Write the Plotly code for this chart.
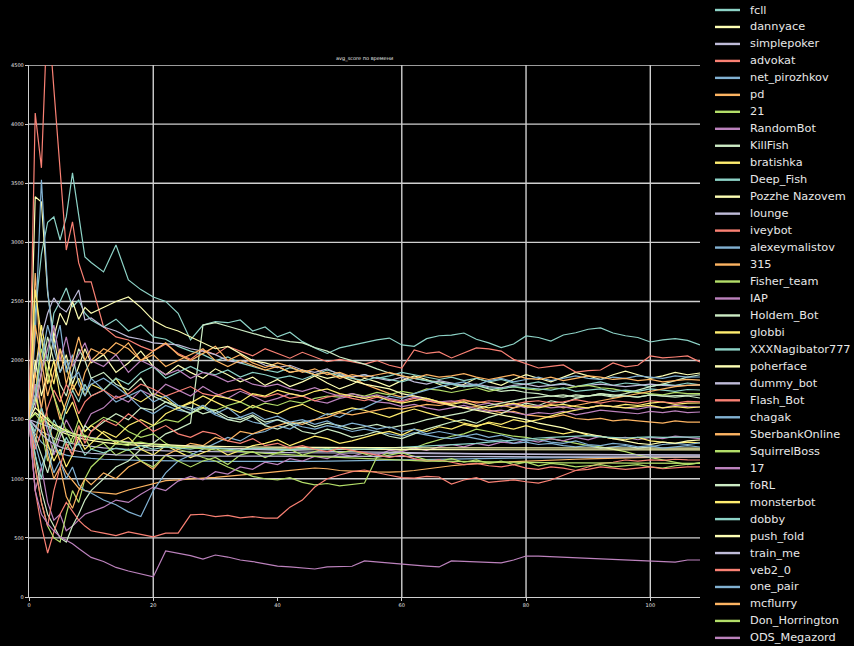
import plotly.graph_objects as go

# x positions of the samples (games played)
X = list(range(0, 11)) + list(range(12, 109, 2))

NAMES = ["fcll", "dannyace", "simplepoker", "advokat", "net_pirozhkov", "pd", "21",
         "RandomBot", "KillFish", "bratishka", "Deep_Fish", "Pozzhe Nazovem", "lounge",
         "iveybot", "alexeymalistov", "315", "Fisher_team", "IAP", "Holdem_Bot", "globbi",
         "XXXNagibator777", "poherface", "dummy_bot", "Flash_Bot", "chagak", "SberbankOnline",
         "SquirrelBoss", "17", "foRL", "monsterbot", "dobby", "push_fold", "train_me",
         "veb2_0", "one_pair", "mcflurry", "Don_Horrington", "ODS_Megazord"]

COLORS = ["#8dd3c7", "#feffb3", "#bfbbd9", "#fa8174", "#81b1d2",
          "#fdb462", "#b3de69", "#bc82bd", "#ccebc4", "#ffed6f"]

X_TICKS = [0, 20, 40, 60, 80, 100]
Y_TICKS = [0, 500, 1000, 1500, 2000, 2500, 3000, 3500, 4000, 4500]
X_GRID = [20, 60, 80, 100]
Y_GRID = [500, 1000, 2000, 2500, 3000, 3500, 4000, 4500]

fcll = [1500, 2400, 2900, 3170, 3215, 3020, 3215, 3587, 3230, 2877, 2830,
        2750, 2978, 2682, 2600, 2538, 2500, 2400,
        2174, 2300, 2330, 2320, 2343, 2250, 2284,
        2200, 2240, 2160, 2107, 2060, 2107, 2130,
        2150, 2175, 2190, 2132, 2120, 2185, 2210,
        2215, 2233, 2180, 2150, 2110, 2140, 2208,
        2195, 2165, 2216, 2235, 2265, 2276, 2233,
        2210, 2195, 2157, 2175, 2185, 2170, 2132]
dannyace = [1500, 3385, 3340, 2572, 2200, 1900, 2050, 1800, 1950, 2100, 1980,
            2050, 1900, 1980, 2080, 1950, 1880, 1960,
            1900, 1850, 1930, 1880, 1820, 1860, 1790,
            1840, 1780, 1820, 1870, 1810, 1760, 1800,
            1850, 1820, 1780, 1830, 1870, 1840, 1800,
            1760, 1800, 1850, 1820, 1790, 1840, 1880,
            1850, 1820, 1860, 1900, 1870, 1840, 1880,
            1910, 1880, 1850, 1870, 1900, 1880, 1895]
simplepoker = [1500, 1440, 1400, 1370, 1345, 1325, 1310, 1298, 1288, 1280, 1273,
               1262, 1254, 1248, 1243, 1239, 1236, 1233,
               1231, 1229, 1227, 1226, 1225, 1224, 1223,
               1222, 1221, 1220, 1219, 1219, 1218, 1217,
               1216, 1215, 1214, 1213, 1212, 1211, 1210,
               1209, 1208, 1208, 1207, 1206, 1206, 1205,
               1205, 1204, 1204, 1203, 1203, 1202, 1202,
               1202, 1201, 1201, 1201, 1201, 1200, 1200]
advokat = [1500, 4094, 3630, 5000, 4300, 3600, 2935, 3173, 2826, 2665, 2665,
           2284, 2200, 2174, 2120, 2080, 2140, 2060,
           2010, 2090, 2050, 2120, 2080, 2040, 2100,
           2060, 2020, 2070, 2030, 1990, 2010, 1988,
           1970, 2000, 1960, 1937, 2090, 2060, 2073,
           2022, 2064, 2107, 2098, 2080, 2010, 1975,
           1937, 1950, 1963, 1903, 1915, 1920, 1980,
           1946, 1960, 2039, 2022, 2030, 2039, 1988]
net_pirozhkov = [1500, 1380, 1310, 1265, 1235, 1215, 1200, 1190, 1183, 1177, 1172,
                 1165, 1160, 1157, 1155, 1153, 1151, 1150,
                 1149, 1148, 1148, 1147, 1147, 1146, 1146,
                 1146, 1146, 1147, 1148, 1150, 1152, 1154,
                 1156, 1158, 1160, 1162, 1164, 1166, 1168,
                 1170, 1171, 1172, 1173, 1174, 1175, 1176,
                 1177, 1178, 1179, 1180, 1181, 1182, 1183,
                 1183, 1184, 1184, 1185, 1185, 1185, 1184]
pd_bot = [1500, 2741, 1900, 1500, 1300, 1150, 1050, 980, 920, 900, 890,
          880, 870, 905, 930, 960, 985, 990,
          1000, 1006, 1012, 1020, 1030, 1040, 1050,
          1060, 1070, 1080, 1091, 1085, 1070, 1065,
          1060, 1058, 1057, 1060, 1070, 1085, 1100,
          1110, 1120, 1130, 1135, 1140, 1145, 1150,
          1155, 1160, 1162, 1165, 1168, 1172, 1175,
          1177, 1179, 1180, 1182, 1183, 1184, 1184]
bot_21 = [1500, 1800, 1400, 1150, 1300, 1450, 1250, 1350, 1500, 1400, 1450,
          1520, 1480, 1400, 1350, 1380, 1300, 1250,
          1220, 1180, 1150, 1100, 1060, 1020, 1000,
          990, 1010, 970, 948, 960, 940, 955,
          964, 1184, 1220, 1240, 1260, 1300, 1330,
          1360, 1380, 1420, 1400, 1380, 1360, 1350,
          1330, 1340, 1320, 1300, 1280, 1270, 1250,
          1230, 1200, 1180, 1160, 1140, 1120, 1134]
RandomBot = [1500, 900, 1100, 800, 650, 700, 560, 600, 650, 700, 720,
             760, 820, 800, 870, 930, 900, 980,
             1020, 990, 1060, 1040, 1100, 1080, 1140,
             1120, 1170, 1150, 1190, 1170, 1210, 1190,
             1220, 1200, 1240, 1230, 1260, 1240, 1270,
             1290, 1270, 1300, 1280, 1310, 1300, 1330,
             1310, 1340, 1320, 1350, 1330, 1360, 1340,
             1350, 1330, 1350, 1340, 1360, 1350, 1340]
KillFish = [1500, 1200, 900, 700, 600, 500, 465, 600, 700, 820, 900,
            1000, 1100, 1150, 1250, 1300, 1380, 1420,
            1472, 2300, 2320, 2290, 2259, 2230, 2200,
            2180, 2160, 2149, 2110, 2080, 2030, 2000,
            1970, 1930, 1895, 1870, 1850, 1830, 1820,
            1800, 1780, 1790, 1760, 1740, 1750, 1730,
            1720, 1700, 1710, 1690, 1700, 1710, 1690,
            1700, 1690, 1710, 1700, 1705, 1710, 1709]
bratishka = [1500, 1900, 2300, 2000, 1800, 2100, 1950, 1750, 1850, 1700, 1800,
             1750, 1850, 1700, 1650, 1720, 1680, 1600,
             1640, 1700, 1650, 1600, 1560, 1620, 1580,
             1550, 1600, 1630, 1580, 1540, 1570, 1600,
             1580, 1550, 1520, 1560, 1590, 1560, 1530,
             1500, 1470, 1450, 1470, 1440, 1420, 1450,
             1420, 1400, 1380, 1400, 1370, 1360, 1340,
             1330, 1350, 1320, 1310, 1300, 1310, 1303]
Deep_Fish = [1500, 1700, 2200, 2000, 2400, 2500, 2614, 2453, 2512, 2400, 2343,
             2284, 2350, 2250, 2300, 2200, 2180, 2120,
             2080, 2050, 2000, 2030, 1980, 1950, 1920,
             1900, 1940, 1910, 1880, 1920, 1890, 1860,
             1880, 1850, 1870, 1900, 1880, 1860, 1840,
             1860, 1830, 1850, 1820, 1840, 1810, 1800,
             1820, 1790, 1810, 1780, 1800, 1820, 1790,
             1810, 1800, 1780, 1800, 1790, 1810, 1794]
Pozzhe_Nazovem = [1500, 1560, 1520, 1470, 1430, 1400, 1380, 1360, 1345, 1333, 1323,
                  1308, 1296, 1288, 1280, 1274, 1270, 1266,
                  1263, 1260, 1258, 1256, 1255, 1254, 1253,
                  1252, 1251, 1250, 1250, 1249, 1249, 1248,
                  1248, 1248, 1247, 1247, 1247, 1246, 1246,
                  1246, 1246, 1245, 1245, 1245, 1245, 1245,
                  1245, 1245, 1244, 1244, 1244, 1244, 1244,
                  1244, 1244, 1244, 1244, 1244, 1244, 1244]
lounge = [1500, 1900, 2200, 2400, 2530, 2450, 2411, 2500, 2597, 2343, 2360,
          2284, 2250, 2200, 2180, 2150, 2140, 2132,
          2100, 2080, 2050, 2000, 1980, 2010, 1960,
          1940, 1960, 1920, 1900, 1930, 1880, 1860,
          1880, 1850, 1830, 1860, 1820, 1800, 1830,
          1810, 1790, 1800, 1780, 1770, 1790, 1800,
          1780, 1790, 1800, 1780, 1790, 1800, 1790,
          1780, 1790, 1800, 1790, 1785, 1790, 1794]
iveybot = [1500, 900, 600, 372, 550, 700, 800, 720, 650, 600, 560,
           540, 520, 550, 530, 508, 540, 541,
           694, 700, 680, 690, 670, 680, 668,
           668, 760, 820, 930, 1000, 1032, 1060,
           1074, 1050, 1030, 1010, 1006, 1020, 1015,
           956, 990, 1010, 970, 980, 990, 975,
           964, 990, 1030, 1070, 1100, 1130, 1140,
           1159, 1150, 1160, 1155, 1165, 1160, 1159]
alexeymalistov = [1500, 2200, 3530, 2600, 2100, 2300, 1900, 2050, 1800, 1700, 1850,
                  1750, 1650, 1700, 1600, 1550, 1620, 1580,
                  1560, 1600, 1540, 1500, 1520, 1480, 1460,
                  1500, 1470, 1440, 1420, 1450, 1430, 1400,
                  1420, 1400, 1380, 1360, 1390, 1370, 1350,
                  1340, 1360, 1340, 1320, 1330, 1300, 1310,
                  1290, 1300, 1280, 1270, 1280, 1260, 1270,
                  1280, 1260, 1270, 1290, 1300, 1290, 1303]
bot_315 = [1500, 1300, 1600, 1900, 1700, 1500, 1650, 1800, 1700, 1900, 2000,
           2100, 2050, 2150, 2000, 2080, 2150, 2050,
           2000, 2060, 2120, 2000, 2050, 1980, 1940,
           1980, 1950, 1900, 1930, 1880, 1900, 1860,
           1800, 1760, 1720, 1690, 1700, 1660, 1640,
           1620, 1600, 1610, 1580, 1560, 1570, 1540,
           1530, 1520, 1540, 1510, 1500, 1510, 1490,
           1500, 1490, 1480, 1470, 1490, 1480, 1480]
Fisher_team = [1500, 1100, 800, 600, 500, 465, 700, 900, 800, 1000, 1100,
               1200, 1300, 1280, 1400, 1450, 1500, 1480,
               1550, 1600, 1580, 1620, 1650, 1600, 1640,
               1620, 1660, 1640, 1680, 1700, 1690, 1720,
               1700, 1730, 1710, 1740, 1720, 1760, 1750,
               1730, 1750, 1770, 1740, 1760, 1780, 1760,
               1750, 1770, 1760, 1780, 1790, 1770, 1760,
               1740, 1730, 1720, 1710, 1730, 1720, 1720]
IAP = [1500, 1800, 1600, 1400, 1200, 1350, 1500, 1400, 1300, 1450, 1550,
       1600, 1700, 1650, 1750, 1700, 1800, 1750,
       1700, 1780, 1720, 1680, 1740, 1700, 1650,
       1680, 1720, 1700, 1660, 1640, 1680, 1700,
       1680, 1650, 1640, 1610, 1630, 1600, 1580,
       1600, 1620, 1590, 1570, 1580, 1560, 1540,
       1560, 1550, 1570, 1540, 1560, 1580, 1570,
       1560, 1550, 1570, 1560, 1575, 1560, 1565]
Holdem_Bot = [1500, 1650, 1900, 2200, 2000, 1800, 1700, 1900, 2100, 2000, 1850,
              1900, 1800, 1750, 1850, 1700, 1650, 1600,
              1550, 1620, 1560, 1500, 1480, 1530, 1450,
              1420, 1460, 1400, 1380, 1420, 1390, 1350,
              1370, 1400, 1360, 1340, 1380, 1420, 1450,
              1480, 1500, 1470, 1520, 1550, 1600, 1640,
              1620, 1660, 1640, 1680, 1700, 1720, 1700,
              1720, 1750, 1780, 1800, 1830, 1860, 1880]
globbi = [1500, 2600, 2200, 1800, 2000, 1700, 1550, 1650, 1500, 1400, 1450,
          1380, 1300, 1350, 1250, 1200, 1280, 1230,
          1180, 1220, 1260, 1200, 1240, 1280, 1300,
          1330, 1280, 1320, 1360, 1340, 1300, 1320,
          1350, 1380, 1400, 1370, 1420, 1400, 1440,
          1420, 1460, 1440, 1480, 1460, 1500, 1480,
          1500, 1530, 1560, 1580, 1600, 1620, 1610,
          1630, 1620, 1640, 1650, 1630, 1640, 1641]
XXXNagibator777 = [1500, 1200, 1000, 1300, 1500, 1400, 1600, 1750, 1650, 1800, 1700,
                   1750, 1850, 1800, 1900, 1950, 1850, 1900,
                   1950, 1900, 1880, 1920, 1860, 1900, 1880,
                   1850, 1870, 1840, 1880, 1900, 1870, 1850,
                   1830, 1860, 1840, 1820, 1850, 1830, 1810,
                   1800, 1780, 1790, 1770, 1760, 1780, 1770,
                   1760, 1750, 1770, 1740, 1750, 1760, 1740,
                   1750, 1740, 1760, 1750, 1740, 1755, 1751]
poherface = [1500, 2000, 1700, 1900, 2200, 2400, 2300, 2500, 2350, 2450, 2400,
             2453, 2500, 2538, 2450, 2340, 2284, 2250,
             2200, 2150, 2100, 2120, 2060, 2000, 1980,
             1950, 1900, 1920, 1880, 1850, 1870, 1830,
             1800, 1780, 1760, 1720, 1700, 1680, 1650,
             1620, 1600, 1580, 1560, 1540, 1520, 1500,
             1470, 1450, 1430, 1400, 1380, 1360, 1340,
             1320, 1300, 1290, 1310, 1300, 1320, 1328]
dummy_bot = [1500, 1480, 1460, 1440, 1425, 1410, 1395, 1380, 1368, 1357, 1348,
             1333, 1320, 1308, 1298, 1290, 1282, 1275,
             1269, 1264, 1259, 1255, 1251, 1247, 1244,
             1241, 1238, 1235, 1233, 1231, 1229, 1227,
             1225, 1223, 1221, 1220, 1218, 1217, 1216,
             1215, 1214, 1213, 1212, 1211, 1210, 1209,
             1208, 1207, 1207, 1206, 1205, 1205, 1204,
             1204, 1203, 1203, 1202, 1202, 1202, 1201]
Flash_Bot = [1500, 1250, 1400, 1600, 1750, 1650, 1800, 1700, 1550, 1650, 1700,
             1750, 1680, 1720, 1800, 1760, 1700, 1740,
             1780, 1720, 1700, 1740, 1760, 1710, 1690,
             1720, 1680, 1700, 1660, 1690, 1710, 1680,
             1660, 1690, 1670, 1650, 1680, 1660, 1641,
             1650, 1670, 1640, 1660, 1650, 1630, 1650,
             1660, 1640, 1650, 1670, 1650, 1640, 1660,
             1650, 1640, 1660, 1650, 1640, 1655, 1650]
chagak = [1500, 1300, 1100, 1250, 1050, 1150, 1000, 1100, 950, 900, 880,
          820, 780, 720, 680, 900, 1050, 1150,
          1200, 1250, 1300, 1350, 1320, 1380, 1400,
          1450, 1420, 1480, 1500, 1550, 1520, 1580,
          1600, 1650, 1700, 1680, 1720, 1750, 1780,
          1800, 1820, 1790, 1830, 1850, 1820, 1840,
          1860, 1830, 1850, 1870, 1850, 1840, 1860,
          1850, 1870, 1860, 1850, 1870, 1860, 1861]
SberbankOnline = [1500, 1900, 1600, 1200, 1000, 1100, 850, 750, 900, 1000, 950,
                  1050, 1000, 1100, 1150, 1080, 1200, 1250,
                  1300, 1280, 1350, 1320, 1400, 1380, 1420,
                  1450, 1480, 1460, 1500, 1520, 1560, 1540,
                  1560, 1580, 1600, 1590, 1610, 1630, 1620,
                  1640, 1660, 1650, 1640, 1620, 1600, 1620,
                  1610, 1630, 1600, 1620, 1640, 1660, 1680,
                  1700, 1720, 1740, 1760, 1780, 1790, 1794]
SquirrelBoss = [1500, 1700, 2100, 1900, 1700, 1550, 1400, 1300, 1450, 1350, 1250,
                1300, 1200, 1250, 1150, 1100, 1200, 1150,
                1100, 1150, 1180, 1120, 1200, 1230, 1180,
                1220, 1250, 1200, 1230, 1260, 1220, 1240,
                1210, 1180, 1200, 1220, 1190, 1160, 1150,
                1170, 1140, 1160, 1130, 1150, 1120, 1140,
                1110, 1130, 1120, 1100, 1110, 1120, 1100,
                1110, 1120, 1100, 1090, 1110, 1120, 1134]
bot_17 = [1500, 1600, 1900, 2100, 2300, 2000, 2200, 1950, 2050, 2150, 2000,
          1950, 2050, 1900, 2000, 1950, 1880, 1920,
          1850, 1900, 1870, 1820, 1850, 1800, 1780,
          1800, 1760, 1740, 1770, 1730, 1700, 1720,
          1690, 1710, 1680, 1660, 1690, 1670, 1650,
          1660, 1640, 1620, 1640, 1610, 1630, 1600,
          1620, 1600, 1610, 1590, 1600, 1620, 1610,
          1600, 1590, 1610, 1600, 1620, 1610, 1607]
foRL = [1500, 1350, 1200, 1050, 1250, 1400, 1300, 1200, 1350, 1450, 1400,
        1480, 1550, 1500, 1600, 1580, 1650, 1620,
        1600, 1550, 1580, 1520, 1500, 1540, 1480,
        1500, 1460, 1480, 1440, 1470, 1450, 1420,
        1440, 1460, 1430, 1450, 1470, 1500, 1520,
        1540, 1560, 1590, 1620, 1640, 1660, 1680,
        1690, 1700, 1690, 1710, 1700, 1720, 1710,
        1700, 1690, 1710, 1700, 1690, 1700, 1683]
monsterbot = [1500, 1700, 1500, 1300, 1150, 1250, 1100, 1200, 1350, 1250, 1300,
              1400, 1350, 1450, 1500, 1450, 1550, 1600,
              1650, 1600, 1700, 1680, 1650, 1720, 1700,
              1750, 1720, 1700, 1740, 1760, 1720, 1700,
              1680, 1700, 1660, 1640, 1660, 1680, 1650,
              1630, 1650, 1620, 1600, 1620, 1640, 1610,
              1600, 1620, 1630, 1610, 1600, 1620, 1610,
              1600, 1610, 1620, 1600, 1610, 1600, 1607]
dobby = [1500, 1400, 1600, 1450, 1300, 1200, 1350, 1250, 1300, 1200, 1250,
         1220, 1260, 1240, 1280, 1250, 1270, 1260,
         1250, 1270, 1260, 1250, 1240, 1260, 1255,
         1250, 1245, 1255, 1250, 1248, 1252, 1250,
         1250, 1255, 1260, 1265, 1270, 1275, 1280,
         1285, 1290, 1300, 1310, 1320, 1330, 1340,
         1345, 1350, 1355, 1360, 1365, 1355, 1350,
         1345, 1350, 1355, 1350, 1352, 1355, 1354]
push_fold = [1500, 1600, 1550, 1500, 1460, 1430, 1405, 1385, 1370, 1356, 1345,
             1330, 1317, 1307, 1299, 1292, 1287, 1283,
             1279, 1276, 1274, 1272, 1270, 1269, 1268,
             1267, 1266, 1265, 1265, 1264, 1264, 1263,
             1263, 1263, 1262, 1262, 1262, 1261, 1261,
             1261, 1261, 1261, 1260, 1260, 1260, 1260,
             1260, 1260, 1260, 1260, 1260, 1260, 1260,
             1260, 1260, 1260, 1260, 1260, 1260, 1260]
train_me = [1500, 1450, 1380, 1330, 1295, 1270, 1252, 1240, 1230, 1222, 1216,
            1208, 1203, 1200, 1198, 1196, 1195, 1194,
            1193, 1193, 1192, 1192, 1192, 1191, 1191,
            1191, 1190, 1190, 1190, 1189, 1189, 1189,
            1189, 1188, 1188, 1188, 1188, 1187, 1187,
            1187, 1187, 1187, 1186, 1186, 1186, 1186,
            1186, 1186, 1185, 1185, 1185, 1185, 1185,
            1185, 1185, 1185, 1185, 1185, 1185, 1185]
veb2_0 = [1500, 1100, 800, 600, 900, 1100, 1300, 1200, 1450, 1300, 1400,
          1500, 1450, 1550, 1480, 1400, 1450, 1380,
          1350, 1400, 1380, 1320, 1300, 1340, 1280,
          1300, 1260, 1280, 1250, 1230, 1260, 1240,
          1220, 1200, 1180, 1200, 1170, 1150, 1160,
          1140, 1120, 1130, 1110, 1100, 1120, 1090,
          1080, 1100, 1090, 1070, 1080, 1100, 1090,
          1080, 1090, 1100, 1085, 1095, 1100, 1100]
one_pair = [1500, 1700, 2000, 2300, 2100, 1900, 2000, 1850, 1900, 1750, 1800,
            1850, 1780, 1700, 1750, 1650, 1700, 1620,
            1580, 1620, 1550, 1600, 1520, 1560, 1500,
            1530, 1480, 1500, 1460, 1490, 1440, 1470,
            1450, 1420, 1440, 1400, 1420, 1380, 1400,
            1380, 1360, 1380, 1350, 1370, 1340, 1320,
            1330, 1310, 1300, 1320, 1290, 1280, 1300,
            1290, 1270, 1280, 1260, 1270, 1280, 1269]
mcflurry = [1500, 2300, 2000, 1700, 1900, 2100, 1800, 2000, 2200, 2000, 2100,
            2050, 2150, 2100, 2000, 2050, 1950, 2000,
            2050, 2100, 2000, 1950, 2000, 1960, 1920,
            1950, 1900, 1920, 1880, 1900, 1850, 1880,
            1860, 1880, 1900, 1870, 1850, 1880, 1860,
            1870, 1890, 1860, 1840, 1860, 1880, 1850,
            1840, 1860, 1830, 1850, 1870, 1860, 1840,
            1850, 1830, 1840, 1820, 1830, 1840, 1835]
Don_Horrington = [1500, 1550, 1480, 1520, 1450, 1400, 1420, 1380, 1360, 1370, 1340,
                  1330, 1320, 1300, 1310, 1290, 1280, 1270,
                  1260, 1250, 1245, 1240, 1230, 1220, 1215,
                  1210, 1200, 1195, 1190, 1185, 1180, 1175,
                  1170, 1165, 1160, 1160, 1155, 1150, 1150,
                  1148, 1146, 1144, 1142, 1140, 1140, 1138,
                  1137, 1136, 1135, 1135, 1134, 1134, 1133,
                  1133, 1132, 1132, 1131, 1131, 1130, 1130]
ODS_Megazord = [1500, 900, 700, 620, 560, 510, 480, 450, 410, 370, 335,
                300, 250, 220, 195, 170, 390, 372,
                350, 320, 355, 338, 313, 300, 280,
                262, 255, 245, 237, 254, 254, 260,
                305, 295, 285, 279, 270, 262, 254,
                305, 300, 295, 290, 288, 313, 347,
                345, 340, 338, 333, 328, 322, 318,
                314, 308, 305, 300, 295, 313, 313]

SERIES = [fcll, dannyace, simplepoker, advokat, net_pirozhkov, pd_bot, bot_21,
          RandomBot, KillFish, bratishka, Deep_Fish, Pozzhe_Nazovem, lounge,
          iveybot, alexeymalistov, bot_315, Fisher_team, IAP, Holdem_Bot, globbi,
          XXXNagibator777, poherface, dummy_bot, Flash_Bot, chagak, SberbankOnline,
          SquirrelBoss, bot_17, foRL, monsterbot, dobby, push_fold, train_me,
          veb2_0, one_pair, mcflurry, Don_Horrington, ODS_Megazord]

W, H = 854, 646
ML, MR, MT, MB = 29, 154, 65, 49
PW, PH = W - ML - MR, H - MT - MB
GRID_COLOR = "#cfcfcf"
TXT = "#e8e8e8"
FONT = "DejaVu Sans"


def paper_x(px):
    return (px - ML) / PW


def paper_y(py):
    return (H - MB - py) / PH


fig = go.Figure()
for i, (name, vals) in enumerate(zip(NAMES, SERIES)):
    fig.add_trace(go.Scatter(
        x=X[:len(vals)], y=vals, mode="lines", name=name, showlegend=False,
        line=dict(color=COLORS[i % len(COLORS)], width=1.2),
        hoverinfo="skip"))

shapes = []
for gy in Y_GRID:
    shapes.append(dict(type="line", xref="paper", yref="y", x0=0, x1=1, y0=gy, y1=gy,
                       line=dict(color=GRID_COLOR, width=1.4), layer="below"))
for gx in X_GRID:
    shapes.append(dict(type="line", xref="x", yref="paper", x0=gx, x1=gx, y0=0, y1=1,
                       line=dict(color=GRID_COLOR, width=1.4), layer="below"))

annotations = []
# manual legend
for i, name in enumerate(NAMES):
    py = 10 + 16.97 * i
    yy = paper_y(py)
    shapes.append(dict(type="line", xref="paper", yref="paper",
                       x0=paper_x(715), x1=paper_x(740), y0=yy, y1=yy,
                       line=dict(color=COLORS[i % len(COLORS)], width=2.4)))
    annotations.append(dict(xref="paper", yref="paper", x=paper_x(748), y=yy,
                            xanchor="left", yanchor="middle", showarrow=False,
                            text=name, font=dict(family=FONT, size=11.3, color=TXT)))

annotations.append(dict(xref="paper", yref="paper", x=0.5, y=1, xanchor="center",
                        yanchor="bottom", yshift=1, showarrow=False,
                        text="avg_score по времени",
                        font=dict(family=FONT, size=5, color=TXT)))

fig.update_layout(
    width=W, height=H,
    margin=dict(l=ML, r=MR, t=MT, b=MB, pad=0),
    paper_bgcolor="black", plot_bgcolor="black",
    showlegend=False,
    shapes=shapes, annotations=annotations,
    xaxis=dict(range=[0, 108], tickvals=X_TICKS, ticktext=[str(v) for v in X_TICKS],
               showgrid=False, zeroline=False, showline=True, linecolor=GRID_COLOR,
               linewidth=1.4, ticks="outside", ticklen=3, tickcolor=GRID_COLOR,
               tickwidth=1, tickfont=dict(family=FONT, size=5, color=TXT)),
    yaxis=dict(range=[0, 4500], tickvals=Y_TICKS, ticktext=[str(v) for v in Y_TICKS],
               showgrid=False, zeroline=False, showline=True, linecolor=GRID_COLOR,
               linewidth=1.4, ticks="outside", ticklen=3, tickcolor=GRID_COLOR,
               tickwidth=1, tickfont=dict(family=FONT, size=5, color=TXT)),
    font=dict(family=FONT, color=TXT),
)

fig.write_html("out.html")
